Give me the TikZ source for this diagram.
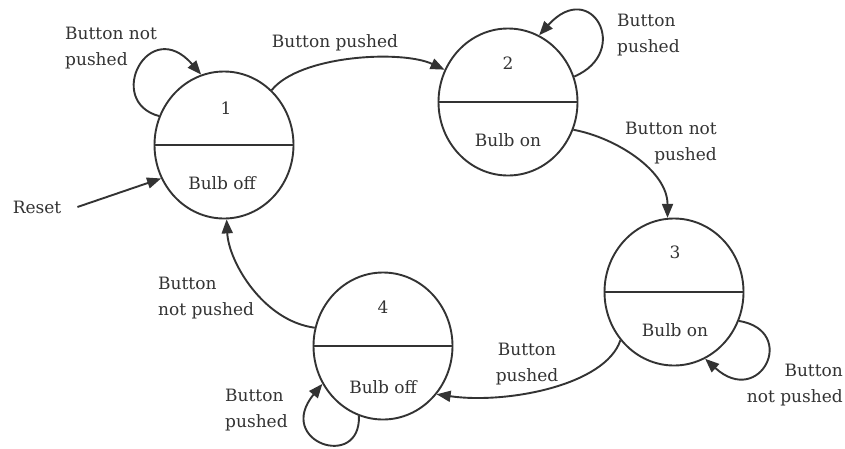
\documentclass[tikz,border=0pt]{standalone}
\usepackage{fontspec}
\setmainfont{DejaVu Serif}
\usetikzlibrary{arrows.meta,shapes.geometric}
\definecolor{ink}{HTML}{333333}
\begin{document}
\begin{tikzpicture}[x=1pt,y=-1pt,
  state/.style={ellipse,draw=ink,line width=1.9pt,minimum width=139pt,minimum height=147pt,inner sep=0pt},
  txt/.style={text=ink,inner sep=0pt,font=\fontsize{17}{26}\selectfont},
  conn/.style={draw=ink,line width=1.9pt,-{Triangle[length=14pt,width=11pt]}},
  div/.style={draw=ink,line width=1.9pt}]
\useasboundingbox[fill=white] (0,0) rectangle (845,448);
% states
\node[state] (c1) at (224,145) {};
\node[state] (c2) at (508,102) {};
\node[state] (c3) at (674,292) {};
\node[state] (c4) at (383,346) {};
\draw[div] (c1.west) -- (c1.east);
\draw[div] (c2.west) -- (c2.east);
\draw[div] (c3.west) -- (c3.east);
\draw[div] (c4.west) -- (c4.east);
% state texts
\node[txt] (n1) at (226,108) {1};
\node[txt] (o1) at (222,183) {Bulb off};
\node[txt] (n2) at (508,63) {2};
\node[txt] (o2) at (508,140) {Bulb on};
\node[txt] (n3) at (675,252) {3};
\node[txt] (o3) at (675,330) {Bulb on};
\node[txt] (n4) at (383,307) {4};
\node[txt] (o4) at (383,387) {Bulb off};
% labels
\node[txt,align=left,anchor=west] (l11) at (65,48) {Button not\\pushed};
\node[txt] (l12) at (335,43) {Button pushed};
\node[txt,align=left,anchor=west] (l22) at (617,35) {Button\\pushed};
\node[txt,align=right,anchor=east] (l23) at (717,143) {Button not\\pushed};
\node[txt,align=right,anchor=east] (l33) at (843,385) {Button\\not pushed};
\node[txt,align=center] (l34) at (527,364) {Button\\pushed};
\node[txt,align=left,anchor=west] (l44) at (225,410) {Button\\pushed};
\node[txt,align=left,anchor=west] (l41) at (158,298) {Button\\not pushed};
\node[txt] (reset) at (37,207) {Reset};
% connectors
\draw[conn] (reset.east) ++(16,0) coordinate (rs) (rs) -- (c1.208);
\draw[conn] (c1.156) .. controls +(-55,-15) and +(-52,-60) .. (c1.108);
\draw[conn] (c1.49) .. controls +(28,-35) and +(-43,-20) .. (c2.153);
\draw[conn] (c2.21) .. controls +(58,-25) and +(52,-58) .. (c2.65);
\draw[conn] (c2.337) .. controls +(43,8) and +(0,-47) .. (c3.95);
\draw[conn] (c3.336) .. controls +(60,10) and +(55,50) .. (c3.295);
\draw[conn] (c3.222) .. controls +(-15,45) and +(70,10) .. (c4.318);
\draw[conn] (c4.251) .. controls +(2,55) and +(-48,58) .. (c4.212);
\draw[conn] (c4.165) .. controls +(-52,-7) and +(2,42) .. (c1.272);
\end{tikzpicture}
\end{document}
